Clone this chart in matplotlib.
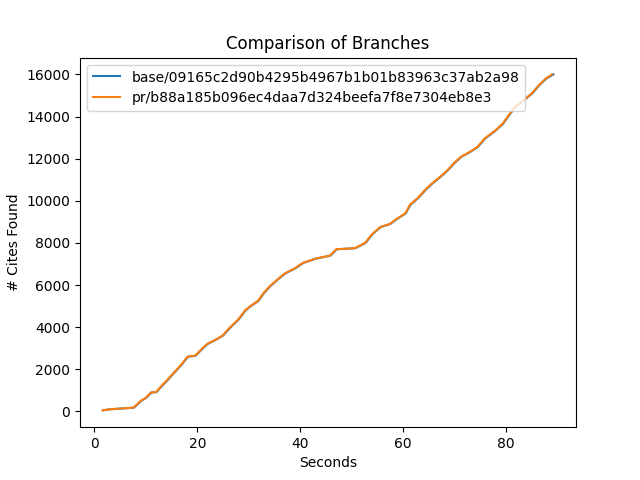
import numpy as np
import matplotlib
matplotlib.use("Agg")
import matplotlib.pyplot as plt

# values (seconds, cites found)
pr_seconds = [1.6, 2.8, 7.6, 9.0, 10.0, 11.0, 12.0, 13.0, 14.0, 15.3, 16.8, 18.1,
              19.6, 20.6, 21.9, 23.5, 24.9, 26.4, 27.9, 29.3, 30.3, 31.8, 32.8,
              34.1, 35.5, 37.0, 39.0, 40.5, 42.9, 45.8, 47.0, 50.6, 52.6, 53.9,
              55.5, 57.4, 58.8, 60.4, 61.3, 62.9, 64.2, 65.5, 67.0, 68.6, 69.9,
              71.3, 72.8, 74.4, 75.8, 77.7, 79.3, 80.6, 81.9, 83.5, 85.0, 86.4,
              87.7, 88.9]
pr_cites = [50, 100, 180, 500, 650, 900, 920, 1200, 1450, 1800, 2200, 2600,
            2650, 2900, 3200, 3400, 3600, 4000, 4350, 4800, 5000, 5250, 5600,
            5950, 6250, 6550, 6800, 7050, 7250, 7400, 7700, 7750, 8000, 8400,
            8750, 8900, 9150, 9400, 9800, 10150, 10500, 10800, 11100, 11450, 11800,
            12100, 12300, 12550, 12950, 13300, 13650, 14100, 14500, 14800, 15100, 15500,
            15800, 16000]

# base branch runs a touch slower
base_seconds = [1.7, 2.9, 7.7, 9.1, 10.1, 11.1, 12.1, 13.1, 14.1, 15.4, 16.9, 18.2,
                19.7, 20.7, 22.0, 23.6, 25.0, 26.5, 28.0, 29.4, 30.4, 31.9, 32.9,
                34.2, 35.6, 37.1, 39.1, 40.6, 43.0, 45.9, 47.1, 50.7, 52.7, 54.0,
                55.6, 57.5, 58.9, 60.5, 61.4, 63.0, 64.3, 65.6, 67.1, 68.7, 70.0,
                71.4, 72.9, 74.5, 75.9, 77.8, 79.4, 80.7, 82.0, 83.6, 85.1, 86.5,
                87.8, 89.2]
base_cites = pr_cites

base_label = "base/09165c2d90b4295b4967b1b01b83963c37ab2a98"
pr_label = "pr/b88a185b096ec4daa7d324beefa7f8e7304eb8e3"

fig, ax = plt.subplots(figsize=(6.4, 4.8), dpi=100)
ax.plot(base_seconds, base_cites, label=base_label)
ax.plot(pr_seconds, pr_cites, label=pr_label)
ax.set_title("Comparison of Branches")
ax.set_xlabel("Seconds")
ax.set_ylabel("# Cites Found")
ax.legend(loc="upper left")
fig.savefig("out.png")
